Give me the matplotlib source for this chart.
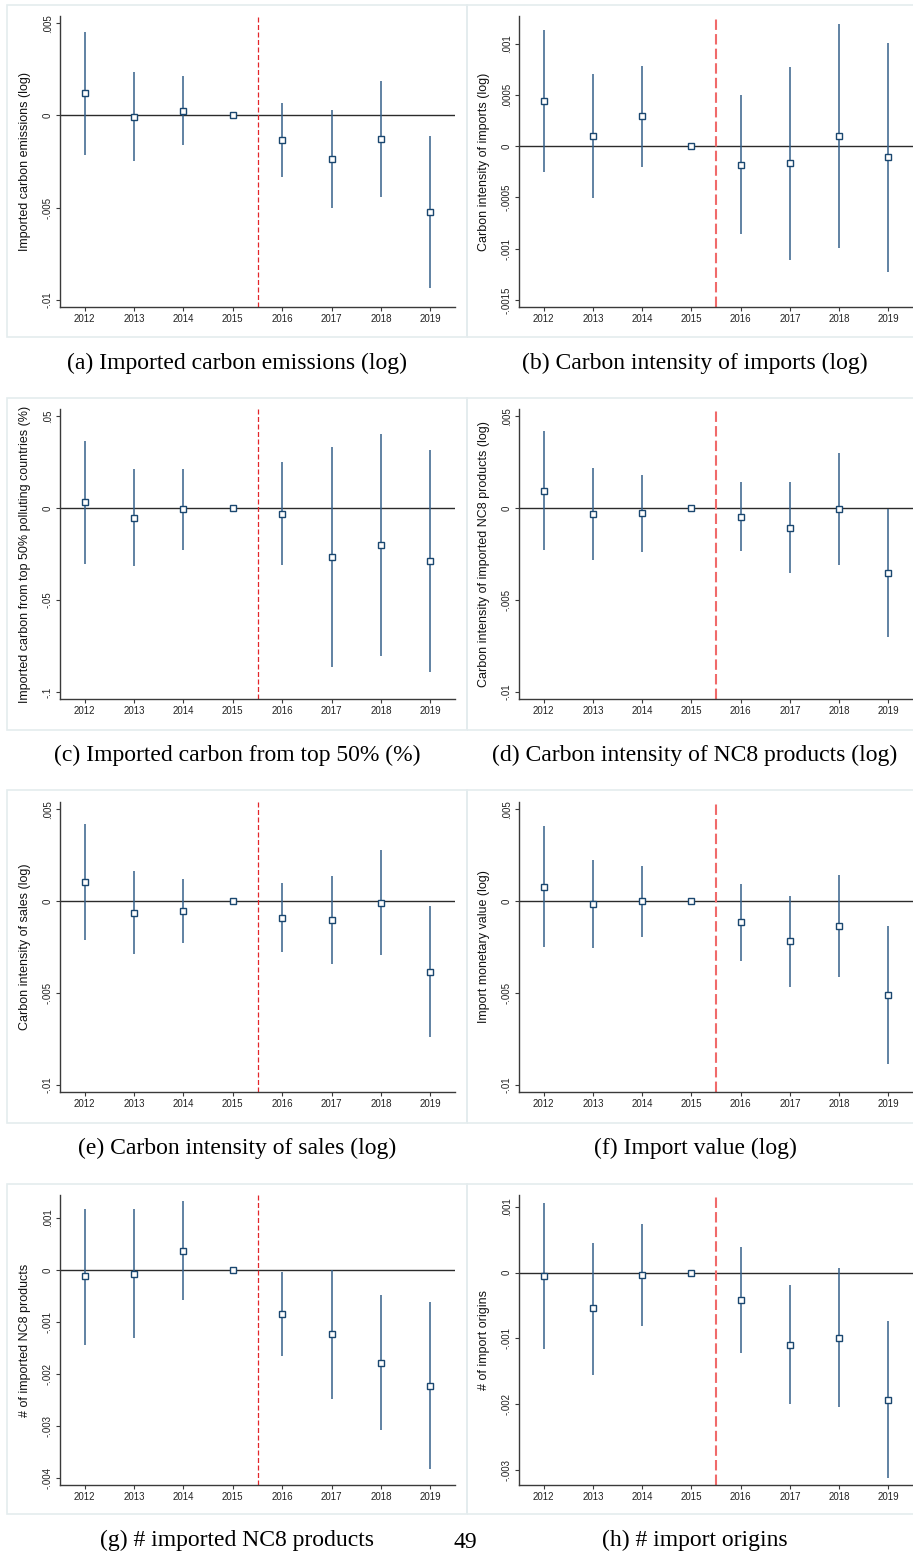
import numpy as np
import matplotlib
matplotlib.use("Agg")
import matplotlib.pyplot as plt
from matplotlib.patches import Rectangle

plt.rcParams['font.family'] = ['Liberation Sans', 'DejaVu Sans']

years = [2012, 2013, 2014, 2015, 2016, 2017, 2018, 2019]

# point estimates and 95% CI bounds, one set per outcome
carbon_coef = [0.00121, -0.00007, 0.00025, 0.0, -0.00134, -0.00237, -0.00129, -0.00524]
carbon_lo = [-0.00212, -0.00246, -0.00161, 0.0, -0.00333, -0.00502, -0.00442, -0.00935]
carbon_hi = [0.00455, 0.00234, 0.00212, 0.0, 0.00065, 0.00029, 0.00185, -0.00112]

intens_coef = [0.000443, 0.000098, 0.000293, 0.0, -0.000182, -0.000169, 0.000101, -0.000107]
intens_lo = [-0.000254, -0.000508, -0.000202, 0.0, -0.00086, -0.001107, -0.000993, -0.001228]
intens_hi = [0.001134, 0.0007, 0.000782, 0.0, 0.000498, 0.000769, 0.001195, 0.00101]

top50_coef = [0.00308, -0.00525, -0.00072, 0.0, -0.00308, -0.0264, -0.0199, -0.0288]
top50_lo = [-0.0303, -0.0315, -0.0226, 0.0, -0.0312, -0.0864, -0.0803, -0.0891]
top50_hi = [0.0364, 0.0214, 0.0214, 0.0, 0.0252, 0.0333, 0.0404, 0.0313]

nc8int_coef = [0.00094, -0.00033, -0.00029, 0.0, -0.00047, -0.00107, -0.00005, -0.00355]
nc8int_lo = [-0.0023, -0.00284, -0.00239, 0.0, -0.00234, -0.00355, -0.00308, -0.00703]
nc8int_hi = [0.00418, 0.00219, 0.00181, 0.0, 0.00141, 0.00143, 0.00299, -0.00007]

sales_coef = [0.00103, -0.00063, -0.00056, 0.0, -0.00091, -0.00103, -0.00011, -0.00384]
sales_lo = [-0.00212, -0.00286, -0.0023, 0.0, -0.00279, -0.00344, -0.00293, -0.00739]
sales_hi = [0.0042, 0.00163, 0.0012, 0.0, 0.00098, 0.00136, 0.00277, -0.00029]

value_coef = [0.00078, -0.00016, -0.00002, 0.0, -0.00114, -0.00217, -0.00138, -0.00511]
value_lo = [-0.00252, -0.00255, -0.00194, 0.0, -0.00324, -0.00466, -0.00415, -0.0089]
value_hi = [0.00409, 0.00225, 0.0019, 0.0, 0.00094, 0.00029, 0.0014, -0.00134]

nprod_coef = [-0.000128, -0.000071, 0.000372, 0.0, -0.000847, -0.00124, -0.00179, -0.00223]
nprod_lo = [-0.00144, -0.00132, -0.000571, 0.0, -0.00166, -0.00248, -0.00309, -0.00383]
nprod_hi = [0.00118, 0.00117, 0.00132, 0.0, -0.000039, 0.0, -0.000481, -0.000623]

norig_coef = [-0.00005, -0.000545, -0.00003, 0.0, -0.000419, -0.0011, -0.000995, -0.00193]
norig_lo = [-0.00116, -0.00156, -0.000813, 0.0, -0.00122, -0.002, -0.00205, -0.00312]
norig_hi = [0.00106, 0.000455, 0.000742, 0.0, 0.000394, -0.000192, 0.0000657, -0.000742]

ylabels = [
    'Imported carbon emissions (log)',
    'Carbon intensity of imports (log)',
    'Imported carbon from top 50% polluting countries (%)',
    'Carbon intensity of imported NC8 products (log)',
    'Carbon intensity of sales (log)',
    'Import monetary value (log)',
    '# of imported NC8 products',
    '# of import origins',
]
captions = [
    '(a) Imported carbon emissions (log)',
    '(b) Carbon intensity of imports (log)',
    '(c) Imported carbon from top 50% (%)',
    '(d) Carbon intensity of NC8 products (log)',
    '(e) Carbon intensity of sales (log)',
    '(f) Import value (log)',
    '(g) # imported NC8 products',
    '(h) # import origins',
]
yticks = [
    [0.005, 0, -0.005, -0.01],
    [0.001, 0.0005, 0, -0.0005, -0.001, -0.0015],
    [0.05, 0, -0.05, -0.1],
    [0.005, 0, -0.005, -0.01],
    [0.005, 0, -0.005, -0.01],
    [0.005, 0, -0.005, -0.01],
    [0.001, 0, -0.001, -0.002, -0.003, -0.004],
    [0.001, 0, -0.001, -0.002, -0.003],
]
ylims = [
    (-0.0104, 0.0054),
    (-0.00157, 0.00127),
    (-0.1038, 0.0538),
    (-0.0104, 0.0054),
    (-0.0104, 0.0054),
    (-0.0104, 0.0054),
    (-0.00414, 0.00144),
    (-0.00323, 0.00118),
]
series = [
    (carbon_coef, carbon_lo, carbon_hi),
    (intens_coef, intens_lo, intens_hi),
    (top50_coef, top50_lo, top50_hi),
    (nc8int_coef, nc8int_lo, nc8int_hi),
    (sales_coef, sales_lo, sales_hi),
    (value_coef, value_lo, value_hi),
    (nprod_coef, nprod_lo, nprod_hi),
    (norig_coef, norig_lo, norig_hi),
]

W, H = 913, 1555
fig = plt.figure(figsize=(W / 100, H / 100), dpi=100)

# pixel layout of each grid cell
col_frame = [(7, 467), (467, 915)]
col_axes = [(60, 455), (519, 913)]
row_frame = [(5, 337), (398, 730), (790, 1123), (1184, 1514)]
row_axes = [(16, 307), (409, 699), (802, 1092), (1195, 1485)]
row_caption = [363, 755, 1148, 1540]


def stata_fmt(v):
    if v == 0:
        return '0'
    s = ('%.4f' % v).rstrip('0')
    return s.replace('0.', '.', 1)


navy = '#1a476f'
bar_color = '#35608a'

for k in range(8):
    r, c = divmod(k, 2)
    fx0, fx1 = col_frame[c]
    fy0, fy1 = row_frame[r]
    fig.patches.append(Rectangle((fx0 / W, 1 - fy1 / H), (fx1 - fx0) / W, (fy1 - fy0) / H,
                                 transform=fig.transFigure, fill=False,
                                 edgecolor='#e4ecee', linewidth=1.2))

    ax0, ax1 = col_axes[c]
    ay0, ay1 = row_axes[r]
    ax = fig.add_axes([ax0 / W, 1 - ay1 / H, (ax1 - ax0) / W, (ay1 - ay0) / H])

    coef, lo, hi = series[k]
    ax.vlines(years, lo, hi, color=bar_color, linewidth=1.1, zorder=2)
    ax.axhline(0, color='#2b2b2b', linewidth=1.0, zorder=1)
    if c == 0:
        ax.axvline(2015.5, color='#e3262a', linewidth=0.9, dashes=(4, 2), zorder=1)
    else:
        ax.axvline(2015.5, color='#f06a6a', linewidth=1.5, dashes=(5, 2), zorder=1)
    ax.plot(years, coef, linestyle='none', marker='s', markersize=4.8,
            markerfacecolor='white', markeredgecolor=navy, markeredgewidth=1.0, zorder=3)

    ax.set_xlim(2011.5, 2019.5)
    ax.set_ylim(*ylims[k])
    ax.set_xticks(years)
    ax.set_xticklabels([str(y) for y in years])
    ax.set_yticks(yticks[k])
    ax.set_yticklabels([stata_fmt(v) for v in yticks[k]], rotation=90, va='center')

    for side in ['top', 'right']:
        ax.spines[side].set_visible(False)
    for side in ['left', 'bottom']:
        ax.spines[side].set_color('#3a3a3a')
        ax.spines[side].set_linewidth(1.0)
    ax.tick_params(axis='both', length=3, width=0.8, color='#3a3a3a',
                   labelsize=7, labelcolor='#222222', pad=2)

    ax.set_ylabel(ylabels[k], fontsize=9, color='#111111')
    ax.yaxis.set_label_coords(-0.074, 0.5)

    fig.text((fx0 + fx1) / 2 / W if c == 0 else 695 / W, 1 - row_caption[r] / H,
             captions[k], ha='center', va='center', fontsize=17,
             family=['Liberation Serif', 'DejaVu Serif'])

fig.text(465 / W, 1 - 1542 / H, '49', ha='center', va='center', fontsize=17,
         family=['Liberation Serif', 'DejaVu Serif'])

fig.savefig('out.png', dpi=100)
